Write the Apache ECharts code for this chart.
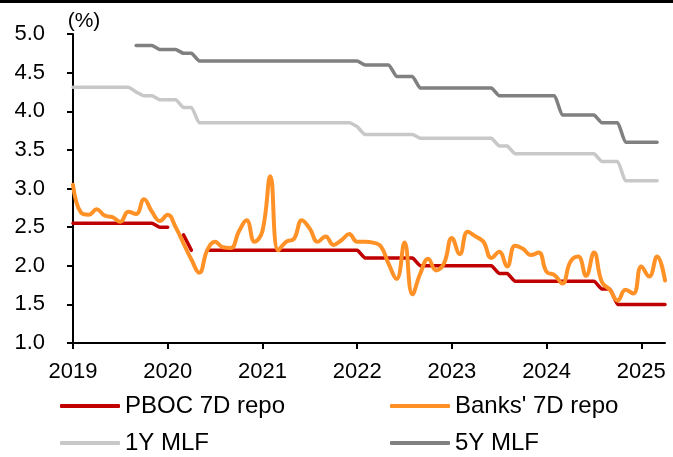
<!DOCTYPE html>
<html>
<head>
<meta charset="utf-8">
<script src="https://cdn.jsdelivr.net/npm/echarts@6/dist/echarts.min.js"></script>
<style>
  html, body { margin: 0; padding: 0; background: #fff; }
  #chart { width: 673px; height: 457px; }
</style>
</head>
<body>
<div id="chart"></div>
<script>
// Monthly observations, Jan 2019 onwards
const startYear = 2019;
const monthCount = 76;

// PBOC 7-day reverse repo rate (%); null = no operation that month
const pbocRepo = [
  2.55, 2.55, 2.55, 2.55, 2.55, 2.55, 2.55, 2.55, 2.55, 2.55, 2.55,
  2.50, 2.50, null, 2.40, 2.20, null,
  2.20, 2.20, 2.20, 2.20, 2.20, 2.20, 2.20, 2.20, 2.20, 2.20,
  2.20, 2.20, 2.20, 2.20, 2.20, 2.20, 2.20, 2.20, 2.20, 2.20,
  2.10, 2.10, 2.10, 2.10, 2.10, 2.10, 2.10,
  2.00, 2.00, 2.00, 2.00, 2.00, 2.00, 2.00, 2.00, 2.00, 2.00,
  1.90, 1.90,
  1.80, 1.80, 1.80, 1.80, 1.80, 1.80, 1.80, 1.80, 1.80, 1.80, 1.80,
  1.70, 1.70,
  1.50, 1.50, 1.50, 1.50, 1.50, 1.50, 1.50
];

// Interbank 7-day repo rate (%)
const banksRepo = [
  3.05, 2.69, 2.66, 2.73, 2.65, 2.63, 2.57, 2.70, 2.67, 2.86,
  2.70, 2.58, 2.66, 2.50, 2.29, 2.08, 1.91, 2.20, 2.31, 2.24,
  2.23, 2.44, 2.59, 2.31, 2.45, 3.16, 2.20, 2.31, 2.35, 2.59,
  2.48, 2.31, 2.38, 2.27, 2.33, 2.41, 2.31, 2.31, 2.30, 2.25,
  2.02, 1.83, 2.30, 1.63, 1.90, 2.09, 1.94, 2.03, 2.36, 2.15,
  2.44, 2.38, 2.31, 2.10, 2.18, 1.99, 2.26, 2.22, 2.14, 2.17,
  1.92, 1.88, 1.77, 2.05, 2.12, 1.87, 2.17, 1.79, 1.69, 1.55,
  1.69, 1.64, 1.99, 1.86, 2.12, 1.81
];

// 1-year rate (%)
const mlf1y = [
  4.31, 4.31, 4.31, 4.31, 4.31, 4.31, 4.31, 4.31,
  4.25, 4.20, 4.20, 4.15, 4.15, 4.15, 4.05, 4.05,
  3.85, 3.85, 3.85, 3.85, 3.85, 3.85, 3.85, 3.85, 3.85, 3.85,
  3.85, 3.85, 3.85, 3.85, 3.85, 3.85, 3.85, 3.85, 3.85, 3.85,
  3.80,
  3.70, 3.70, 3.70, 3.70, 3.70, 3.70, 3.70,
  3.65, 3.65, 3.65, 3.65, 3.65, 3.65, 3.65, 3.65, 3.65, 3.65,
  3.55, 3.55,
  3.45, 3.45, 3.45, 3.45, 3.45, 3.45, 3.45, 3.45, 3.45, 3.45, 3.45,
  3.35, 3.35, 3.35,
  3.10, 3.10, 3.10, 3.10, 3.10
];

// 5-year rate (%)
const mlf5y = [
  null, null, null, null, null, null, null, null,
  4.85, 4.85, 4.85, 4.80, 4.80, 4.80, 4.75, 4.75,
  4.65, 4.65, 4.65, 4.65, 4.65, 4.65, 4.65, 4.65, 4.65, 4.65, 4.65,
  4.65, 4.65, 4.65, 4.65, 4.65, 4.65, 4.65, 4.65, 4.65, 4.65,
  4.60, 4.60, 4.60, 4.60,
  4.45, 4.45, 4.45,
  4.30, 4.30, 4.30, 4.30, 4.30, 4.30, 4.30, 4.30, 4.30, 4.30,
  4.20, 4.20, 4.20, 4.20, 4.20, 4.20, 4.20, 4.20,
  3.95, 3.95, 3.95, 3.95, 3.95,
  3.85, 3.85, 3.85,
  3.60, 3.60, 3.60, 3.60, 3.60
];

const seriesNames = ['PBOC 7D repo', "Banks' 7D repo", '1Y MLF', '5Y MLF'];
const seriesColors = ['#C00000', '#FF9126', '#C8C8C8', '#808080'];

// Month labels "YYYY-MM"
const months = [];
for (let i = 0; i < monthCount; i++) {
  const y = startYear + Math.floor(i / 12);
  const m = (i % 12) + 1;
  months.push(y + '-' + (m < 10 ? '0' + m : m));
}

const FONT = "'Liberation Sans', Arial, sans-serif";

function lineSeries(idx, data, width, smooth) {
  return {
    name: seriesNames[idx],
    type: 'line',
    data: data,
    color: seriesColors[idx],
    smooth: smooth,
    showSymbol: false,
    symbol: 'none',
    connectNulls: false,
    lineStyle: { width: width, color: seriesColors[idx], cap: 'round', join: 'round' }
  };
}

function legendAt(idx, left, top) {
  return {
    data: [seriesNames[idx]],
    left: left,
    top: top,
    padding: 0,
    icon: 'roundRect',
    itemWidth: 60,
    itemHeight: 4,
    selectedMode: false,
    textStyle: { fontFamily: FONT, fontSize: 24, color: '#000' }
  };
}

const chart = echarts.init(document.getElementById('chart'), null, { renderer: 'canvas' });

chart.setOption({
  animation: false,
  backgroundColor: '#fff',
  grid: { left: 73, right: 8, top: 34, bottom: 114 },
  xAxis: {
    type: 'category',
    data: months,
    boundaryGap: false,
    axisLine: { show: true, lineStyle: { color: '#000', width: 2 } },
    axisTick: { show: true, interval: 11, length: 6, lineStyle: { color: '#000', width: 2 } },
    axisLabel: {
      interval: 11,
      margin: 18,
      fontFamily: FONT,
      fontSize: 22,
      color: '#000',
      formatter: v => v.slice(0, 4)
    },
    splitLine: { show: false }
  },
  yAxis: {
    type: 'value',
    min: 1,
    max: 5,
    interval: 0.5,
    axisLine: { show: true, lineStyle: { color: '#000', width: 2 } },
    axisTick: { show: true, length: 6, lineStyle: { color: '#000', width: 2 } },
    axisLabel: {
      margin: 28,
      fontFamily: FONT,
      fontSize: 22,
      color: '#000',
      formatter: v => v.toFixed(1)
    },
    splitLine: { show: false }
  },
  legend: [
    legendAt(0, 60, 394),
    legendAt(1, 390, 394),
    legendAt(2, 60, 431),
    legendAt(3, 390, 431)
  ],
  graphic: [
    {
      type: 'rect',
      left: 0, top: 0,
      shape: { width: 673, height: 3 },
      style: { fill: '#000' },
      silent: true
    },
    {
      type: 'text',
      x: 84, y: 21,
      style: {
        text: '(%)',
        font: '21px ' + FONT,
        fill: '#000',
        textAlign: 'center',
        textVerticalAlign: 'middle'
      },
      silent: true
    }
  ],
  series: [
    lineSeries(0, pbocRepo, 3.5, 0.15),
    lineSeries(1, banksRepo, 4, 0.45),
    lineSeries(2, mlf1y, 3.5, 0.15),
    lineSeries(3, mlf5y, 3.5, 0.15)
  ]
});
</script>
</body>
</html>
